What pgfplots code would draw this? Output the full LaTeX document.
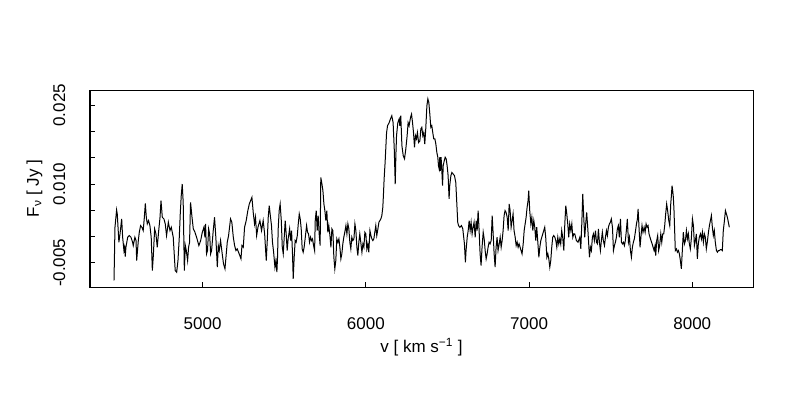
\documentclass[border=0pt]{standalone}
\usepackage{fontspec}
\setmainfont{Liberation Sans}
\usepackage{pgfplots}
\pgfplotsset{compat=1.18}
\begin{document}
\begin{tikzpicture}
\path[use as bounding box] (0,0) rectangle (600pt,300pt);
\begin{axis}[
  at={(67.5pt,84.75pt)}, anchor=south west,
  scale only axis, width=497.25pt, height=147.75pt,
  xmin=4310, xmax=8372, ymin=-0.0096, ymax=0.0279,
  axis line style={line width=0.75pt, black},
  tick style={line width=0.75pt, black},
  tick align=inside, major tick length=3.4pt,
  tick pos=left,
  xtick={5000,6000,7000,8000},
  xticklabels={5000,6000,7000,8000},
  ytick={-0.005,0,0.005,0.010,0.015,0.020,0.025},
  yticklabels={-0.005,,,0.010,,,0.025},
  scaled ticks=false,
  tick label style={font=\fontsize{12.75}{15}\selectfont},
  xticklabel style={anchor=base, yshift=-31.7pt},
  yticklabel style={xshift=-18.75pt, rotate=90, anchor=base},
  every axis y label/.style={at={(axis description cs:0,0.5)}, xshift=-38.25pt, rotate=90, anchor=base, font=\fontsize{12.75}{15}\selectfont},
  every axis x label/.style={at={(axis description cs:0.5,0)}, yshift=-48.75pt, anchor=base, font=\fontsize{12.75}{15}\selectfont},
  xlabel={v [ km s\textsuperscript{−1} ]},
  ylabel={F\textsubscript{ν} [ Jy ]},
  clip=true,
]
\addplot[black, line width=0.75pt, mark=none] coordinates {
(4457,-0.00836)(4459,-0.00519)(4463,0.00177)(4473,0.00507)(4477,0.00431)(4487,-0.00108)(4494,0.00051)(4504,0.00336)(4510,-0.00013)(4518,-0.00266)(4522,-0.00203)(4526,-0.00380)(4530,-0.00203)(4541,-0.00013)(4551,0.00019)(4561,-0.00013)(4571,-0.00108)(4575,-0.00171)(4585,-0.00013)(4592,-0.00076)(4596,-0.00456)(4606,-0.00076)(4612,0.00082)(4620,0.00209)(4628,0.00177)(4636,0.00114)(4643,0.00367)(4649,0.00633)(4655,0.00367)(4661,0.00241)(4669,0.00304)(4677,0.00209)(4685,-0.00013)(4692,-0.00646)(4698,-0.00361)(4706,0.00146)(4714,0.00051)(4722,-0.00203)(4730,0.00082)(4739,0.00367)(4745,0.00684)(4753,0.00367)(4763,0.00336)(4771,0.00241)(4779,0.00019)(4790,0.00272)(4800,0.00114)(4808,0.00177)(4820,-0.00013)(4832,-0.00646)(4841,-0.00678)(4849,-0.00456)(4857,-0.00013)(4863,0.00431)(4869,0.00779)(4875,0.01000)(4881,0.00652)(4888,-0.00646)(4894,-0.00171)(4900,-0.00266)(4908,-0.00456)(4914,-0.00203)(4920,-0.00108)(4926,0.00652)(4935,0.00367)(4943,0.00146)(4953,0.00082)(4963,-0.00013)(4977,-0.00171)(4988,-0.00076)(4998,0.00082)(5008,0.00177)(5014,-0.00013)(5018,0.00241)(5024,-0.00329)(5030,-0.00266)(5037,0.00146)(5043,0.00051)(5049,-0.00329)(5055,-0.00266)(5065,0.00114)(5073,0.00367)(5081,-0.00013)(5090,-0.00583)(5096,-0.00171)(5102,-0.00266)(5110,-0.00076)(5120,-0.00329)(5128,-0.00519)(5137,-0.00614)(5143,-0.00393)(5151,-0.00108)(5159,0.00019)(5171,0.00336)(5179,0.00272)(5188,-0.00013)(5196,-0.00171)(5204,-0.00266)(5212,-0.00234)(5220,-0.00298)(5228,-0.00361)(5235,-0.00424)(5241,-0.00171)(5249,-0.00203)(5257,0.00177)(5267,0.00304)(5277,0.00494)(5286,0.00621)(5294,0.00684)(5302,0.00747)(5310,0.00462)(5318,0.00241)(5324,0.00367)(5331,0.00019)(5339,0.00177)(5351,0.00304)(5361,0.00114)(5371,0.00304)(5380,0.00051)(5386,-0.00266)(5390,-0.00456)(5396,-0.00076)(5402,0.00367)(5408,0.00589)
(5416,0.00367)(5422,0.00209)(5428,-0.00108)(5435,-0.00298)(5443,-0.00583)(5449,-0.00456)(5455,-0.00678)(5459,-0.00393)(5463,0.00146)(5469,0.00494)(5475,0.00621)(5482,0.00304)(5488,-0.00203)(5494,-0.00329)(5500,-0.00013)(5506,0.00304)(5512,0.00051)(5518,-0.00266)(5524,-0.00044)(5533,0.00146)(5539,-0.00076)(5545,0.00114)(5551,-0.00361)(5555,-0.00804)(5561,-0.00393)(5567,-0.00076)(5573,-0.00108)(5580,0.00019)(5586,0.00241)(5592,0.00431)(5598,0.00336)(5604,0.00146)(5610,-0.00234)(5616,-0.00298)(5622,-0.00203)(5629,-0.00013)(5637,0.00209)(5643,0.00082)(5649,0.00051)(5655,-0.00108)(5661,-0.00013)(5667,-0.00076)(5673,-0.00044)(5680,-0.00171)(5686,-0.00266)(5690,0.00304)(5696,0.00494)(5702,0.00114)(5708,0.00399)(5714,0.00051)(5720,-0.00171)(5724,0.01127)(5731,0.01000)(5737,0.00874)(5743,0.00621)(5749,0.00494)(5755,0.00304)(5761,0.00494)(5767,0.00082)(5773,0.00209)(5780,0.00019)(5786,-0.00203)(5792,0.00146)(5798,0.00114)(5804,-0.00393)(5810,-0.00614)(5816,-0.00456)(5822,-0.00044)(5829,-0.00108)(5835,-0.00044)(5841,-0.00203)(5847,-0.00424)(5853,-0.00329)(5859,-0.00139)(5865,-0.00013)(5871,0.00082)(5878,0.00209)(5884,0.00051)(5890,0.00241)(5896,0.00146)(5902,-0.00108)(5908,-0.00234)(5914,-0.00013)(5920,-0.00076)(5927,-0.00044)(5933,0.00241)(5939,0.00114)(5945,-0.00203)(5951,-0.00361)(5957,-0.00108)(5963,0.00051)(5969,-0.00108)(5976,-0.00298)(5982,-0.00139)(5988,-0.00203)(5994,0.00082)(6000,0.00051)(6006,-0.00234)(6012,-0.00139)(6018,-0.00298)(6025,0.00114)(6031,0.00019)(6037,-0.00044)(6043,-0.00076)(6049,-0.00044)(6055,0.00082)(6061,0.00209)(6067,0.00019)(6074,0.00146)(6080,0.00272)(6086,0.00304)(6092,0.00336)(6098,0.00399)(6104,0.00557)(6108,0.00811)
(6112,0.01096)(6118,0.01410)(6127,0.01980)(6133,0.02110)(6143,0.02170)(6151,0.02240)(6159,0.02300)(6167,0.02170)(6174,0.01670)(6180,0.01000)(6184,0.01540)(6188,0.01920)(6196,0.02170)(6204,0.02240)(6208,0.02110)(6214,0.02300)(6221,0.01730)(6229,0.01540)(6237,0.01480)(6245,0.01670)(6253,0.01920)(6259,0.02170)(6265,0.02110)(6274,0.02270)(6280,0.02330)(6286,0.02170)(6292,0.01980)(6298,0.01700)(6304,0.01920)(6310,0.01860)(6316,0.01980)(6323,0.01790)(6331,0.01820)(6337,0.02050)(6343,0.02080)(6349,0.01920)(6355,0.01980)(6361,0.01760)(6367,0.02050)(6374,0.02490)(6380,0.02620)(6386,0.02550)(6392,0.02330)(6398,0.02080)(6404,0.02110)(6410,0.01980)(6416,0.01860)(6423,0.01860)(6429,0.01760)(6435,0.01600)(6441,0.01510)(6445,0.01350)(6449,0.01290)(6453,0.01510)(6457,0.01250)(6461,0.01510)(6465,0.01290)(6470,0.00970)(6474,0.01350)(6480,0.01440)(6486,0.01510)(6492,0.01480)(6498,0.01350)(6504,0.01160)(6510,0.00720)(6514,0.00970)(6521,0.01160)(6527,0.01220)(6535,0.01190)(6543,0.01160)(6551,0.01030)(6555,0.00779)(6559,0.00526)(6563,0.00272)(6568,0.00209)(6576,0.00177)(6586,0.00209)(6594,0.00146)
(6604,-0.00139)(6610,-0.00490)(6614,-0.00266)(6621,-0.00013)(6627,0.00114)(6633,0.00304)(6639,0.00114)(6645,0.00272)(6651,0.00051)(6657,0.00177)(6663,0.00272)(6670,-0.00013)(6676,0.00304)(6682,0.00114)(6688,0.00494)(6694,0.00114)(6700,-0.00329)(6706,-0.00551)(6712,-0.00203)(6719,0.00082)(6725,-0.00044)(6731,-0.00266)(6737,-0.00424)(6743,-0.00329)(6749,-0.00203)(6755,-0.00108)(6761,-0.00139)(6768,-0.00076)(6774,0.00399)(6780,0.00051)(6786,-0.00329)(6792,-0.00583)(6798,-0.00203)(6804,-0.00013)(6810,-0.00266)(6817,-0.00139)(6823,-0.00013)(6829,-0.00203)(6835,-0.00076)(6841,0.00114)(6847,0.00399)(6853,0.00494)(6859,0.00462)(6866,0.00367)(6872,0.00114)(6878,0.00621)(6884,0.00494)(6890,0.00177)(6896,0.00304)(6902,0.00431)(6908,0.00114)(6915,-0.00013)(6921,-0.00171)(6927,-0.00108)(6933,-0.00203)(6939,-0.00139)(6945,-0.00203)(6951,-0.00266)(6957,-0.00329)(6964,-0.00139)(6970,0.00114)(6976,0.00241)(6982,0.00367)(6988,0.00557)(6994,0.00684)(6998,0.00874)(7004,0.00494)(7011,0.00241)(7017,0.00367)(7023,0.00114)(7029,0.00304)(7035,0.00177)(7041,-0.00076)(7047,0.00177)(7053,-0.00076)(7060,-0.00393)(7066,-0.00203)(7072,-0.00076)(7078,-0.00013)(7084,0.00051)(7090,0.00114)(7096,0.00177)(7102,-0.00013)(7109,-0.00393)(7115,-0.00329)(7121,-0.00424)(7127,-0.00583)(7133,-0.00456)(7139,-0.00203)(7145,-0.00013)(7151,0.00019)(7158,-0.00013)(7164,-0.00076)(7170,-0.00203)(7176,-0.00013)(7182,-0.00139)(7188,-0.00044)(7194,-0.00139)(7200,0.00114)(7206,-0.00013)(7213,-0.00266)(7219,0.00241)(7225,0.00589)(7231,0.00431)(7237,0.00241)(7243,-0.00013)(7249,0.00241)(7256,0.00114)(7262,0.00241)(7268,-0.00013)(7274,0.00051)
(7280,0.00051)(7290,-0.00076)(7300,-0.00108)(7311,-0.00013)(7317,-0.00234)(7323,0.00241)(7329,0.00811)(7335,0.00367)(7341,-0.00013)(7347,0.00241)(7353,0.00462)(7360,0.00146)(7366,-0.00171)(7370,-0.00393)(7376,-0.00203)(7382,-0.00266)(7388,-0.00013)(7394,0.00051)(7400,-0.00076)(7407,0.00114)(7413,-0.00108)(7419,-0.00139)(7425,0.00146)(7431,-0.00108)(7437,-0.00266)(7443,-0.00076)(7449,0.00082)(7455,-0.00076)(7462,-0.00171)(7468,-0.00013)(7474,0.00114)(7480,0.00019)(7486,0.00177)(7492,0.00241)(7498,0.00272)(7504,0.00336)(7511,0.00177)(7517,-0.00266)(7523,-0.00171)(7529,-0.00108)(7535,-0.00013)(7541,0.00146)(7547,0.00209)(7553,-0.00013)(7560,0.00336)(7566,-0.00108)(7572,-0.00139)(7578,-0.00108)(7584,-0.00171)(7590,-0.00076)(7596,0.00114)(7602,0.00336)(7609,-0.00108)(7615,-0.00013)(7621,-0.00266)(7627,-0.00393)(7633,-0.00203)(7639,-0.00108)(7645,-0.00044)(7651,0.00082)(7658,0.00241)(7664,0.00336)(7668,0.00526)(7674,0.00146)(7680,-0.00203)(7686,0.00019)(7692,0.00209)(7698,0.00082)(7705,0.00177)(7711,0.00082)(7717,0.00241)(7723,0.00177)(7729,0.00209)(7735,0.00051)(7741,-0.00013)(7747,-0.00076)(7754,-0.00139)(7760,-0.00203)(7766,-0.00266)(7772,-0.00171)(7776,-0.00361)(7782,-0.00076)(7788,0.00019)(7794,-0.00266)(7800,-0.00171)(7807,0.00051)(7813,-0.00108)(7819,0.00051)(7825,0.00051)(7831,0.00209)(7837,0.00431)(7843,0.00621)(7849,0.00494)(7856,0.00304)(7862,0.00209)(7868,0.00621)(7872,0.00779)(7876,0.00969)(7880,0.00874)(7884,0.00747)(7888,0.00494)(7892,0.00114)(7896,-0.00266)(7903,-0.00234)(7909,-0.00298)(7915,-0.00266)(7921,-0.00329)(7927,-0.00456)(7933,-0.00614)(7939,-0.00266)(7945,0.00082)(7952,-0.00139)(7958,-0.00076)(7964,0.00114)(7970,-0.00044)(7976,0.00051)(7982,-0.00139)(7988,-0.00234)(7994,-0.00044)(8001,0.00336)(8007,0.00209)(8013,-0.00171)(8019,-0.00076)(8025,0.00051)(8031,-0.00424)(8037,-0.00139)(8043,-0.00013)(8050,0.00051)(8056,-0.00044)(8062,0.00082)(8068,-0.00108)(8074,0.00051)(8080,-0.00013)(8086,-0.00234)(8092,-0.00108)(8099,0.00082)(8105,0.00209)(8111,0.00304)(8117,0.00399)(8123,0.00177)(8129,0.00019)(8135,0.00114)(8141,-0.00108)(8148,-0.00266)(8154,-0.00298)(8160,-0.00266)(8166,-0.00266)(8172,-0.00250)(8178,-0.00250)(8184,-0.00266)(8190,0.00114)(8197,0.00304)(8203,0.00494)(8209,0.00431)(8215,0.00367)(8221,0.00272)(8227,0.00177)
};
\end{axis}
\end{tikzpicture}
\end{document}
